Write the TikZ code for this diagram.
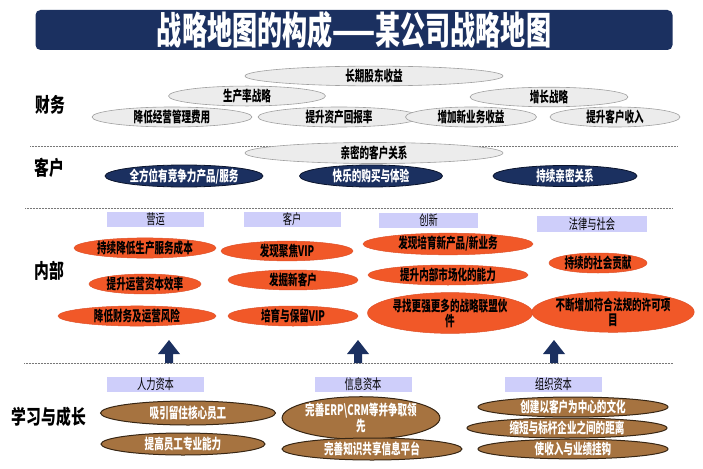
\documentclass[tikz,border=0pt]{standalone}
\usepackage{fontspec}
\setmainfont{Noto Sans CJK SC}
\newfontfamily\cjk[FakeStretch=0.66]{Noto Sans CJK SC}
\newfontfamily\cjkl[FakeStretch=0.74]{Noto Sans CJK SC}
\usetikzlibrary{shapes.geometric}
\definecolor{navy}{RGB}{27,48,96}
\definecolor{navyline}{RGB}{10,20,45}
\definecolor{grayfill}{RGB}{236,236,236}
\definecolor{grayline}{RGB}{160,160,160}
\definecolor{orangefill}{RGB}{241,88,40}
\definecolor{orangeline}{RGB}{222,80,40}
\definecolor{brownfill}{RGB}{166,115,64}
\definecolor{brownline}{RGB}{55,38,20}
\definecolor{lav}{RGB}{206,206,250}
\definecolor{sepline}{RGB}{120,120,120}
\begin{document}
\begin{tikzpicture}[x=1pt,y=-1pt,
  etext/.style={font=\cjk\bfseries\fontsize{14.5}{15}\selectfont, align=center},
  ell/.style={ellipse, inner sep=0pt, etext},
  grayell/.style={ell, fill=grayfill, draw=grayline, line width=0.6pt, text=black},
  navyell/.style={ell, fill=navy, draw=navyline, line width=0.8pt, text=white},
  orell/.style={ell, fill=orangefill, draw=orangeline, line width=0.5pt, text=black},
  brell/.style={ell, fill=brownfill, draw=brownline, line width=1pt, text=white},
  subhead/.style={rectangle, fill=lav, inner sep=0pt, minimum width=97pt, minimum height=15pt,
    font=\cjk\fontsize{14}{15}\selectfont, text=black},
  sectlabel/.style={font=\cjkl\bfseries\fontsize{20}{22}\selectfont, text=black, inner sep=0pt},
  sep/.style={draw=sepline, line width=1pt, dash pattern=on 1pt off 0.5pt},
  blockarrow/.style={fill=navy}
]
\useasboundingbox (0,0) rectangle (703,468);

% title
\node[rectangle, rounded corners=5pt, fill=navy, minimum width=637pt, minimum height=40pt, inner sep=0pt,
  font=\cjk\bfseries\fontsize{38}{40}\selectfont, text=white] (title) at (354,30) {战略地图的构成——某公司战略地图};

% separators
\coordinate (s1a) at (30,146); \coordinate (s1b) at (678,146);
\coordinate (s2a) at (25,208); \coordinate (s2b) at (673,208);
\coordinate (s3a) at (24,363); \coordinate (s3b) at (673,363);
\draw[sep] (s1a) -- (s1b);
\draw[sep] (s2a) -- (s2b);
\draw[sep] (s3a) -- (s3b);

% section labels
\node[sectlabel] (lf) at (50,105) {财务};
\node[sectlabel] (lc) at (49,168) {客户};
\node[sectlabel] (li) at (49,271) {内部};
\node[sectlabel] (ll) at (49,417) {学习与成长};

% finance
\node[grayell, minimum width=258pt, minimum height=18pt] (g1) at (374,76) {长期股东收益};
\node[grayell, minimum width=157pt, minimum height=17pt] (g2) at (247,96) {生产率战略};
\node[grayell, minimum width=158pt, minimum height=17pt] (g3) at (549,97) {增长战略};
\node[grayell, minimum width=160pt, minimum height=20pt] (g4) at (172,117) {降低经营管理费用};
\node[grayell, minimum width=162pt, minimum height=20pt] (g5) at (339,117) {提升资产回报率};
\node[grayell, minimum width=131pt, minimum height=20pt] (g6) at (471,117) {增加新业务收益};
\node[grayell, minimum width=130pt, minimum height=20pt] (g7) at (615,117) {提升客户收入};

% customer
\node[grayell, minimum width=258pt, minimum height=21pt] (g8) at (374,153) {亲密的客户关系};
\node[navyell, minimum width=158pt, minimum height=22pt] (n1) at (184,176) {全方位有竞争力产品/服务};
\node[navyell, minimum width=143pt, minimum height=22pt] (n2) at (371,176) {快乐的购买与体验};
\node[navyell, minimum width=144pt, minimum height=21pt] (n3) at (565,176) {持续亲密关系};

% internal headers
\node[subhead] (h1) at (155.5,219.5) {营运};
\node[subhead] (h2) at (292,219.5) {客户};
\node[subhead, minimum width=99pt] (h3) at (428.5,220) {创新};
\node[subhead, minimum width=110pt, minimum height=16pt] (h4) at (592,224) {法律与社会};

% internal ellipses
\node[orell, minimum width=142pt, minimum height=18pt] (o1) at (145,248) {持续降低生产服务成本};
\node[orell, minimum width=112pt, minimum height=18pt] (o2) at (145,284) {提升运营资本效率};
\node[orell, minimum width=158pt, minimum height=20pt] (o3) at (137,316) {降低财务及运营风险};
\node[orell, minimum width=132pt, minimum height=18pt] (o4) at (287,251) {发现聚焦VIP};
\node[orell, minimum width=130pt, minimum height=19pt] (o5) at (293,280) {发掘新客户};
\node[orell, minimum width=130pt, minimum height=20pt] (o6) at (293,316) {培育与保留VIP};
\node[orell, minimum width=170pt, minimum height=19pt] (o7) at (448,244) {发现培育新产品/新业务};
\node[orell, minimum width=160pt, minimum height=20pt] (o8) at (448,275) {提升内部市场化的能力};
\node[orell, minimum width=165pt, minimum height=39pt] (o9) at (450,313) {寻找更强更多的战略联盟伙\\件};
\node[orell, minimum width=98pt, minimum height=20pt] (o10) at (598,263) {持续的社会贡献};
\node[orell, minimum width=160pt, minimum height=40pt] (o11) at (613,312) {不断增加符合法规的许可项\\目};

% block arrows
\foreach \c in {169,358,554}{
  \fill[blockarrow] (\c-4,363) -- (\c-4,354) -- (\c-11,354) -- (\c,340) -- (\c+11,354) -- (\c+4,354) -- (\c+4,363) -- cycle;
}

% learning headers
\node[subhead] (h5) at (155.5,384.5) {人力资本};
\node[subhead] (h6) at (363,384.5) {信息资本};
\node[subhead] (h7) at (553.5,384.5) {组织资本};

% learning ellipses
\node[brell, minimum width=175pt, minimum height=24pt] (b1) at (188,413) {吸引留住核心员工};
\node[brell, minimum width=164pt, minimum height=22pt] (b2) at (183,444) {提高员工专业能力};
\node[brell, minimum width=148pt, minimum height=37pt] (b3) at (361,418) {完善ERP\textbackslash CRM等并争取领\\先};
\node[brell, minimum width=180pt, minimum height=22pt] (b4) at (372,449) {完善知识共享信息平台};
\node[brell, minimum width=190pt, minimum height=18pt] (b5) at (573,407) {创建以客户为中心的文化};
\node[brell, minimum width=200pt, minimum height=20pt] (b6) at (567,428) {缩短与标杆企业之间的距离};
\node[brell, minimum width=190pt, minimum height=18pt] (b7) at (573,449) {使收入与业绩挂钩};
\end{tikzpicture}
\end{document}
